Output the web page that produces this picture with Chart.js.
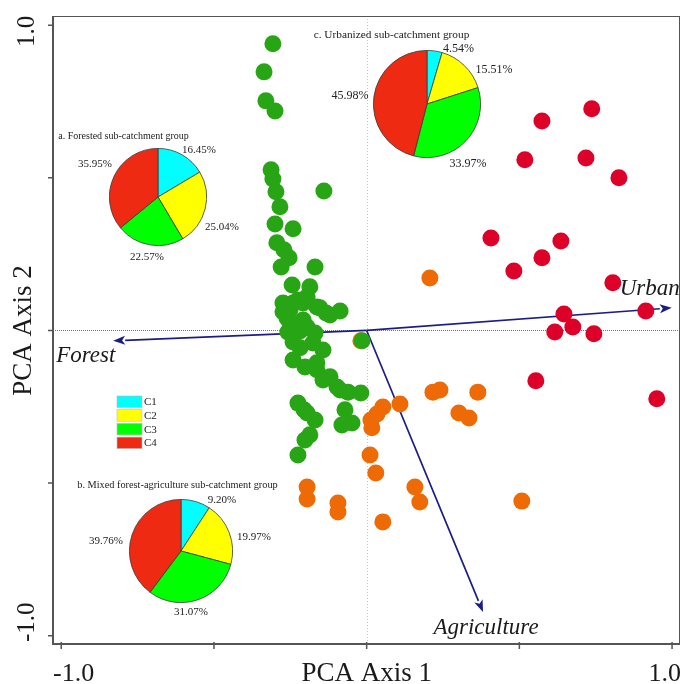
<!DOCTYPE html>
<html>
<head>
<meta charset="utf-8">
<script src="https://cdn.jsdelivr.net/npm/chart.js@4.4.0/dist/chart.umd.min.js"></script>
<style>
  html, body { margin: 0; padding: 0; background: #fff; }
  #wrap { position: relative; width: 681px; height: 684px; }
  #wrap canvas { position: absolute; }
</style>
</head>
<body>
<div id="wrap">
  <canvas id="chart" width="681" height="684" style="left:0;top:0"></canvas>
  <canvas id="pieA"></canvas>
  <canvas id="pieB"></canvas>
  <canvas id="pieC"></canvas>
</div>
<script>
// site scores
const forestX = [-0.307, -0.336, -0.330, -0.300, -0.313, -0.307, -0.297, -0.140, -0.284, -0.300, -0.241, -0.294, -0.271, -0.254, -0.280, -0.169, -0.244, -0.186, -0.274, -0.225, -0.195, -0.251, -0.274, -0.163, -0.153, -0.120, -0.087, -0.261, -0.208, -0.251, -0.195, -0.258, -0.218, -0.169, -0.241, -0.176, -0.218, -0.143, -0.241, -0.163, -0.202, -0.163, -0.143, -0.120, -0.097, -0.087, -0.061, -0.019, -0.225, -0.205, -0.195, -0.169, -0.186, -0.202, -0.225, -0.071, -0.081, -0.048, -0.015, -0.241, -0.208, -0.133]
const forestY = [0.939, 0.847, 0.752, 0.719, 0.526, 0.496, 0.454, 0.457, 0.405, 0.349, 0.333, 0.287, 0.264, 0.238, 0.208, 0.208, 0.149, 0.143, 0.090, 0.100, 0.110, 0.067, 0.061, 0.077, 0.074, 0.051, 0.064, 0.041, 0.034, 0.025, 0.011, -0.005, -0.002, -0.008, -0.038, -0.041, -0.057, -0.064, -0.097, -0.106, -0.120, -0.129, -0.162, -0.152, -0.185, -0.195, -0.202, -0.205, -0.238, -0.260, -0.270, -0.293, -0.342, -0.359, -0.408, -0.260, -0.310, -0.303, -0.034, 0.090, 0.090, 0.057]

const mixedX = [0.207, 0.217, 0.240, 0.364, 0.109, 0.053, 0.034, 0.014, 0.017, 0.302, 0.335, 0.011, 0.030, 0.158, 0.174, 0.508, 0.053, -0.195, -0.195, -0.094, -0.094, -0.019]
const mixedY = [0.172, -0.202, -0.195, -0.202, -0.241, -0.251, -0.274, -0.293, -0.319, -0.270, -0.287, -0.408, -0.467, -0.513, -0.562, -0.559, -0.627, -0.513, -0.552, -0.565, -0.595, -0.034]

const urbanX = [0.737, 0.574, 0.518, 0.718, 0.826, 0.407, 0.636, 0.574, 0.482, 0.806, 0.914, 0.646, 0.675, 0.616, 0.744, 0.554, 0.950]
const urbanY = [0.726, 0.686, 0.559, 0.565, 0.500, 0.303, 0.293, 0.238, 0.195, 0.156, 0.064, 0.054, 0.011, -0.005, -0.011, -0.165, -0.224]

// variable loadings (arrows)
const variables = ["Forest", "Agriculture", "Urban"]
const loadX = [-0.830, 0.381, 0.999]
const loadY = [-0.034, -0.922, 0.074]

// class shares per group
const classes = ["C1", "C2", "C3", "C4"]
const pieForested = [16.45, 25.04, 22.57, 35.95]
const pieMixed = [9.20, 19.97, 31.07, 39.76]
const pieUrban = [4.54, 15.51, 33.97, 45.98]

const tickValues = [-1, -0.5, 0, 0.5, 1]
const tickLabels = ["-1.0", "", "", "", "1.0"]

const classColors = ["#00FFFF", "#FFFF00", "#00FF00", "#EE2A12"]
const serif = '"Liberation Serif", "Times New Roman", serif'
const ink = "#1a1a1a"

// inset layout (pixels)
const insets = [
  { id: "pieA", title: "a. Forested sub-catchment group", values: pieForested, cx: 158, cy: 196.5, r: 48,
    tx: 123.5, ty: 136, tsize: 10, lsize: 11, offs: [[41, -46.5], [64, 30.5], [-11, 60.5], [-63, -32]] },
  { id: "pieB", title: "b. Mixed forest-agriculture sub-catchment group", values: pieMixed, cx: 180.5, cy: 550.5, r: 51,
    tx: 177.5, ty: 485, tsize: 10.3, lsize: 11, offs: [[41.5, -50.5], [73.5, -13], [10.5, 61.5], [-74.5, -9]] },
  { id: "pieC", title: "c. Urbanized sub-catchment group", values: pieUrban, cx: 426.5, cy: 104, r: 53,
    tx: 391.5, ty: 35, tsize: 11.3, lsize: 12, offs: [[32, -55.5], [67.5, -34], [41.5, 59.5], [-76.5, -8]] }
]
const varLabels = [
  { align: "left", dx: -57, dy: 15 },
  { align: "center", dx: 3, dy: 16 },
  { align: "left", dx: -52, dy: -19 }
]

const zip = (xs, ys) => xs.map((v, i) => ({ x: v, y: ys[i] }))

const decor = {
  id: "decor",
  beforeDatasetsDraw(chart) {
    const { ctx, chartArea: a, scales: { x, y } } = chart
    const ox = x.getPixelForValue(0), oy = y.getPixelForValue(0)
    ctx.save()
    ctx.lineWidth = 1
    ctx.setLineDash([1, 2])
    ctx.strokeStyle = "#c4c4c4"
    ctx.beginPath()
    ctx.moveTo(Math.round(ox) + 0.5, a.top)
    ctx.lineTo(Math.round(ox) + 0.5, a.bottom)
    ctx.stroke()
    ctx.setLineDash([1, 1])
    ctx.strokeStyle = "#e8405c"
    ctx.beginPath()
    ctx.moveTo(a.left, Math.round(oy) + 0.5)
    ctx.lineTo(a.right, Math.round(oy) + 0.5)
    ctx.stroke()
    ctx.setLineDash([])

    // loading arrows
    ctx.strokeStyle = "#1c1c86"
    ctx.fillStyle = "#1c1c86"
    ctx.lineWidth = 1.7
    variables.forEach((name, i) => {
      const tx = x.getPixelForValue(loadX[i]), ty = y.getPixelForValue(loadY[i])
      const ang = Math.atan2(ty - oy, tx - ox)
      const head = 12, half = 4.5
      const bx = tx - head * Math.cos(ang), by = ty - head * Math.sin(ang)
      ctx.beginPath()
      ctx.moveTo(ox, oy)
      ctx.lineTo(bx, by)
      ctx.stroke()
      ctx.beginPath()
      ctx.moveTo(tx, ty)
      ctx.lineTo(bx + half * Math.sin(ang), by - half * Math.cos(ang))
      ctx.lineTo(bx + 3 * Math.cos(ang), by + 3 * Math.sin(ang))
      ctx.lineTo(bx - half * Math.sin(ang), by + half * Math.cos(ang))
      ctx.closePath()
      ctx.fill()
    })
    ctx.restore()
  },
  afterDraw(chart) {
    const { ctx, chartArea: a, scales: { x, y } } = chart
    ctx.save()
    // frame
    ctx.strokeStyle = "#555"
    ctx.lineWidth = 1
    ctx.strokeRect(a.left + 0.5, a.top + 0.5, a.right - a.left - 1, a.bottom - a.top - 1)
    ctx.lineWidth = 2
    ctx.beginPath()
    ctx.moveTo(a.left, a.top)
    ctx.lineTo(a.left, a.bottom)
    ctx.lineTo(a.right, a.bottom)
    ctx.stroke()
    ctx.lineWidth = 1.5
    tickValues.forEach(v => {
      const py = y.getPixelForValue(v), px = x.getPixelForValue(v)
      ctx.beginPath()
      ctx.moveTo(a.left - 5, py)
      ctx.lineTo(a.left, py)
      ctx.moveTo(px, a.bottom - 2)
      ctx.lineTo(px, a.bottom + 5)
      ctx.stroke()
    })

    // tick labels and axis titles
    ctx.fillStyle = ink
    ctx.font = "26px " + serif
    ctx.textBaseline = "alphabetic"
    ctx.textAlign = "left"
    ctx.fillText(tickLabels[0], a.left, 681)
    ctx.textAlign = "right"
    ctx.fillText(tickLabels[tickLabels.length - 1], 681, 681)
    ctx.font = "27px " + serif
    ctx.textAlign = "center"
    ctx.fillText("PCA Axis 1", x.getPixelForValue(0), 681)

    ctx.save()
    ctx.translate(27, 0)
    ctx.rotate(-Math.PI / 2)
    ctx.font = "25px " + serif
    ctx.textBaseline = "middle"
    ctx.textAlign = "left"
    ctx.fillText(tickLabels[tickLabels.length - 1], -47, 0)
    ctx.fillText(tickLabels[0], -642, 0)
    ctx.font = "27px " + serif
    ctx.textAlign = "center"
    ctx.fillText("PCA Axis 2", -y.getPixelForValue(0), -3)
    ctx.restore()

    // variable names
    ctx.font = "italic 23px " + serif
    ctx.textBaseline = "middle"
    variables.forEach((name, i) => {
      const tx = x.getPixelForValue(loadX[i]), ty = y.getPixelForValue(loadY[i])
      ctx.textAlign = varLabels[i].align
      ctx.fillText(name, tx + varLabels[i].dx, ty + varLabels[i].dy)
    })

    // legend
    ctx.font = "11px " + serif
    ctx.textAlign = "left"
    classes.forEach((c, i) => {
      const top = 396 + i * 13.7
      ctx.fillStyle = classColors[i]
      ctx.fillRect(117, top, 25, 11.5)
      ctx.strokeStyle = "#bbb"
      ctx.lineWidth = 0.6
      ctx.strokeRect(117, top, 25, 11.5)
      ctx.fillStyle = ink
      ctx.fillText(c, 144, top + 6.5)
    })

    // inset titles and percentages
    ctx.textAlign = "center"
    insets.forEach(p => {
      ctx.font = p.tsize + "px " + serif
      ctx.fillStyle = "#222"
      ctx.fillText(p.title, p.tx, p.ty)
      ctx.font = p.lsize + "px " + serif
      p.values.forEach((v, i) => {
        ctx.fillText(v.toFixed(2) + "%", p.cx + p.offs[i][0], p.cy + p.offs[i][1])
      })
    })
    ctx.restore()
  }
}

const pointStyle = (color, order) => ({
  backgroundColor: color,
  pointRadius: 8.5,
  pointHoverRadius: 8.5,
  pointBorderWidth: 0,
  order: order
})

new Chart(document.getElementById("chart"), {
  type: "scatter",
  data: {
    datasets: [
      { label: "Urbanized", data: zip(urbanX, urbanY), ...pointStyle("#DD0028", 0) },
      { label: "Forested", data: zip(forestX, forestY), ...pointStyle("#28A515", 1) },
      { label: "Mixed", data: zip(mixedX, mixedY), ...pointStyle("#EE6A05", 2) }
    ]
  },
  options: {
    responsive: false,
    animation: false,
    events: [],
    layout: { autoPadding: false, padding: { left: 53, right: 1, top: 16, bottom: 40 } },
    scales: {
      x: { type: "linear", min: -1.027, max: 1.026, display: false, ticks: { display: false } },
      y: { type: "linear", min: -1.027, max: 1.030, display: false, ticks: { display: false } }
    },
    plugins: { legend: { display: false }, tooltip: { enabled: false } }
  },
  plugins: [decor]
})

insets.forEach(p => {
  const el = document.getElementById(p.id)
  const size = Math.round(p.r * 2 + 2)
  el.width = size
  el.height = size
  el.style.left = (p.cx - size / 2) + "px"
  el.style.top = (p.cy - size / 2) + "px"
  new Chart(el, {
    type: "pie",
    data: {
      labels: classes,
      datasets: [{ data: p.values, backgroundColor: classColors, borderColor: "#3a3a3a", borderWidth: 0.8 }]
    },
    options: {
      responsive: false,
      animation: false,
      events: [],
      plugins: { legend: { display: false }, tooltip: { enabled: false } }
    }
  })
})
</script>
</body>
</html>
